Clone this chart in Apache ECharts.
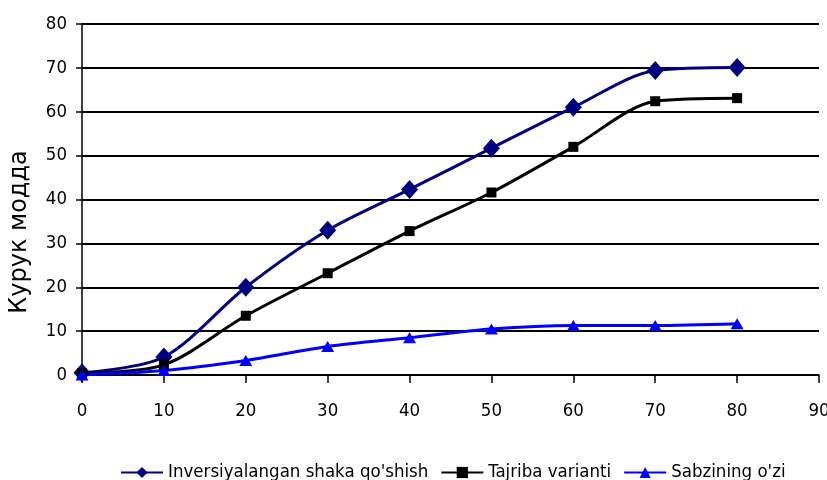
<!DOCTYPE html>
<html>
<head>
<meta charset="utf-8">
<script src="https://cdn.jsdelivr.net/npm/echarts@6/dist/echarts.min.js"></script>
<style>
  html, body { margin: 0; padding: 0; background: #fff; }
  #chart { width: 827px; height: 480px; }
</style>
</head>
<body>
<div id="chart"></div>
<script>
// x qiymatlari (kunlar)
var xVals = [0, 10, 20, 30, 40, 50, 60, 70, 80];
var inversiya = [0.5, 4.1, 20, 33, 42.3, 51.7, 61, 69.4, 70.1];
var tajriba = [0.4, 2.3, 13.5, 23.2, 32.8, 41.6, 52, 62.4, 63.1];
var sabzi = [0, 1, 3.3, 6.5, 8.5, 10.5, 11.3, 11.3, 11.7];
var names = ["Inversiyalangan shaka qo'shish", "Tajriba varianti", "Sabzining o'zi"];
var yTitle = 'Курук модда';

function pairs(ys) {
  return xVals.map(function (x, i) { return [x, ys[i]]; });
}

var font = '"DejaVu Sans Condensed", "Liberation Sans", sans-serif';
var myChart = echarts.init(document.getElementById('chart'));
var option = {
  animation: false,
  textStyle: { fontFamily: font },
  grid: { left: 82, right: 8, top: 24, bottom: 105, outerBoundsMode: 'none' },
  legend: {
    top: 458,
    left: 115,
    itemWidth: 42,
    itemHeight: 14,
    itemGap: 12,
    textStyle: { fontSize: 18.5, color: '#000', fontFamily: font },
    data: names
  },
  graphic: [{
    type: 'text',
    x: 20, y: 232,
    rotation: Math.PI / 2,
    style: {
      text: yTitle,
      font: '24px "DejaVu Sans", sans-serif',
      fill: '#000',
      align: 'center',
      verticalAlign: 'middle'
    }
  }],
  xAxis: {
    type: 'value',
    min: 0, max: 90, interval: 10,
    axisLine: { show: true, lineStyle: { color: '#000', width: 1.5 } },
    axisTick: { show: true, length: 8, lineStyle: { color: '#000', width: 1.5 } },
    axisLabel: { fontSize: 18.5, color: '#000', margin: 27, fontFamily: font },
    splitLine: { show: false }
  },
  yAxis: {
    type: 'value',
    min: 0, max: 80, interval: 10,
    axisLine: { show: true, lineStyle: { color: '#000', width: 1.5 } },
    axisTick: { show: true, length: 6, lineStyle: { color: '#000', width: 1.5 } },
    axisLabel: { fontSize: 18.5, color: '#000', margin: 15, fontFamily: font },
    splitLine: { show: true, lineStyle: { color: '#000', width: 2 } }
  },
  series: [
    {
      name: names[0], type: 'line', smooth: 0.3,
      data: pairs(inversiya),
      symbol: 'diamond', symbolSize: [17, 19],
      lineStyle: { color: '#000080', width: 3 },
      itemStyle: { color: '#000080' }
    },
    {
      name: names[1], type: 'line', smooth: 0.3,
      data: pairs(tajriba),
      symbol: 'rect', symbolSize: 10,
      lineStyle: { color: '#000', width: 3 },
      itemStyle: { color: '#000' }
    },
    {
      name: names[2], type: 'line', smooth: 0.3,
      data: pairs(sabzi),
      symbol: 'triangle', symbolSize: [13, 11],
      lineStyle: { color: '#0000ff', width: 3 },
      itemStyle: { color: '#0000ff' }
    }
  ]
};
myChart.setOption(option);
</script>
</body>
</html>
